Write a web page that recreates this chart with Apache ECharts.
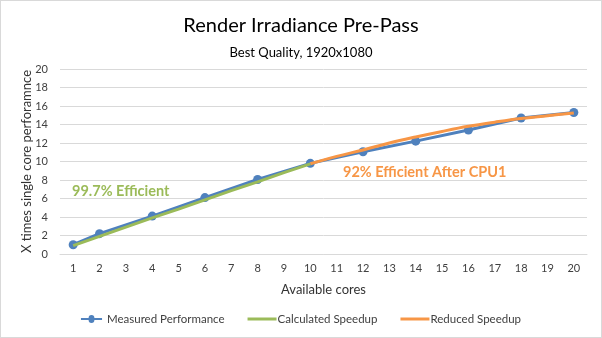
<!DOCTYPE html>
<html>
<head>
<meta charset="utf-8">
<script src="https://cdn.jsdelivr.net/npm/echarts@6/dist/echarts.min.js"></script>
<style>
  html, body { margin: 0; padding: 0; background: #fff; }
  #chart { width: 600px; height: 336px; border: 1px solid #d9d9d9; }
</style>
</head>
<body>
<div id="chart"></div>
<script>
// Core counts along the x axis
const cores = ['1','2','3','4','5','6','7','8','9','10','11','12','13','14','15','16','17','18','19','20'];
// Measured speedup (only even core counts plus 1 were measured)
const measured = [1.0, 2.2, null, 4.1, null, 6.1, null, 8.05, null, 9.8, null, 11.05, null, 12.2, null, 13.4, null, 14.7, null, 15.3];
// Theoretical speedup at 99.7% efficiency, up to 10 cores
const calculated = [0.9, 1.9, 2.9, 3.9, 4.85, 5.85, 6.85, 7.8, 8.8, 9.75, null, null, null, null, null, null, null, null, null, null];
// Reduced speedup curve beyond 10 cores
const reduced = [null, null, null, null, null, null, null, null, null, 9.75, 10.55, 11.25, 12.0, 12.65, 13.25, 13.8, 14.25, 14.65, 14.95, 15.25];
const yTicks = [0, 2, 4, 6, 8, 10, 12, 14, 16, 18, 20];

const FONT = 'Lato';
const BLUE = '#4f81bd', GREEN = '#9bbb59', ORANGE = '#f79646';

// Legend glyphs: thin line, optionally with a dot in the middle
const LINE_ICON = 'path://M0,2.5 L29,2.5 L29,5.5 L0,5.5 Z';
const DOT_ICON = 'path://M0,2.5 L10.5,2.5 A4,4 0 0 1 18.5,2.5 L29,2.5 L29,5.5 L18.5,5.5 A4,4 0 0 1 10.5,5.5 L0,5.5 Z';

const chart = echarts.init(document.getElementById('chart'), null, { renderer: 'canvas' });
chart.setOption({
  animation: false,
  textStyle: { fontFamily: FONT },
  title: {
    text: 'Render Irradiance Pre-Pass',
    subtext: 'Best Quality, 1920x1080',
    left: 'center',
    top: 10,
    itemGap: 10,
    textStyle: { fontFamily: FONT, fontSize: 20, fontWeight: 'normal', color: '#000' },
    subtextStyle: { fontFamily: FONT, fontSize: 13, color: '#000' }
  },
  grid: { left: 59, right: 14, top: 68, bottom: 83 },
  legend: {
    bottom: 7,
    left: 'center',
    itemWidth: 29,
    itemHeight: 8,
    itemGap: 23,
    textStyle: { fontFamily: FONT, fontSize: 11.5, color: '#404040', padding: [0, 0, 0, -4] },
    data: [
      { name: 'Measured Performance', icon: DOT_ICON },
      { name: 'Calculated Speedup', icon: LINE_ICON, itemStyle: { color: GREEN } },
      { name: 'Reduced Speedup', icon: LINE_ICON, itemStyle: { color: ORANGE } }
    ]
  },
  xAxis: {
    type: 'category',
    data: cores,
    boundaryGap: true,
    name: 'Available cores',
    nameLocation: 'middle',
    nameGap: 29,
    nameMoveOverlap: false,
    nameTextStyle: { fontFamily: FONT, fontSize: 13, color: '#333' },
    axisLine: { lineStyle: { color: '#d9d9d9' } },
    axisTick: { show: false },
    axisLabel: { fontFamily: FONT, fontSize: 11, color: '#404040', margin: 9 }
  },
  yAxis: {
    type: 'value',
    min: 0,
    max: 20,
    interval: 2,
    name: 'X times single core perforamnce',
    nameLocation: 'middle',
    nameGap: 27,
    nameMoveOverlap: false,
    nameTextStyle: { fontFamily: FONT, fontSize: 13, color: '#333' },
    axisLine: { show: false },
    axisTick: { show: false },
    axisLabel: {
      fontFamily: FONT, fontSize: 11, color: '#404040', margin: 12,
      formatter: v => (yTicks.indexOf(v) >= 0 ? String(v) : '')
    },
    splitLine: { lineStyle: { color: '#d9d9d9' } }
  },
  series: [
    {
      name: 'Reduced Speedup',
      type: 'line',
      data: reduced,
      smooth: 0.4,
      showSymbol: false,
      symbol: 'none',
      z: 3,
      lineStyle: { color: ORANGE, width: 3 },
      itemStyle: { color: ORANGE }
    },
    {
      name: 'Measured Performance',
      type: 'line',
      data: measured,
      connectNulls: true,
      symbol: 'circle',
      symbolSize: 9,
      showAllSymbol: true,
      z: 2,
      lineStyle: { color: BLUE, width: 3 },
      itemStyle: { color: BLUE }
    },
    {
      name: 'Calculated Speedup',
      type: 'line',
      data: calculated,
      symbol: 'none',
      z: 4,
      lineStyle: { color: GREEN, width: 3 },
      itemStyle: { color: GREEN }
    }
  ],
  graphic: [
    {
      type: 'text', left: 71, top: 183,
      style: { text: '99.7% Efficient', fill: GREEN, font: 'bold 14.5px ' + FONT }
    },
    {
      type: 'text', left: 342, top: 164,
      style: { text: '92% Efficient After CPU1', fill: ORANGE, font: 'bold 14.5px ' + FONT }
    }
  ]
});
</script>
</body>
</html>
